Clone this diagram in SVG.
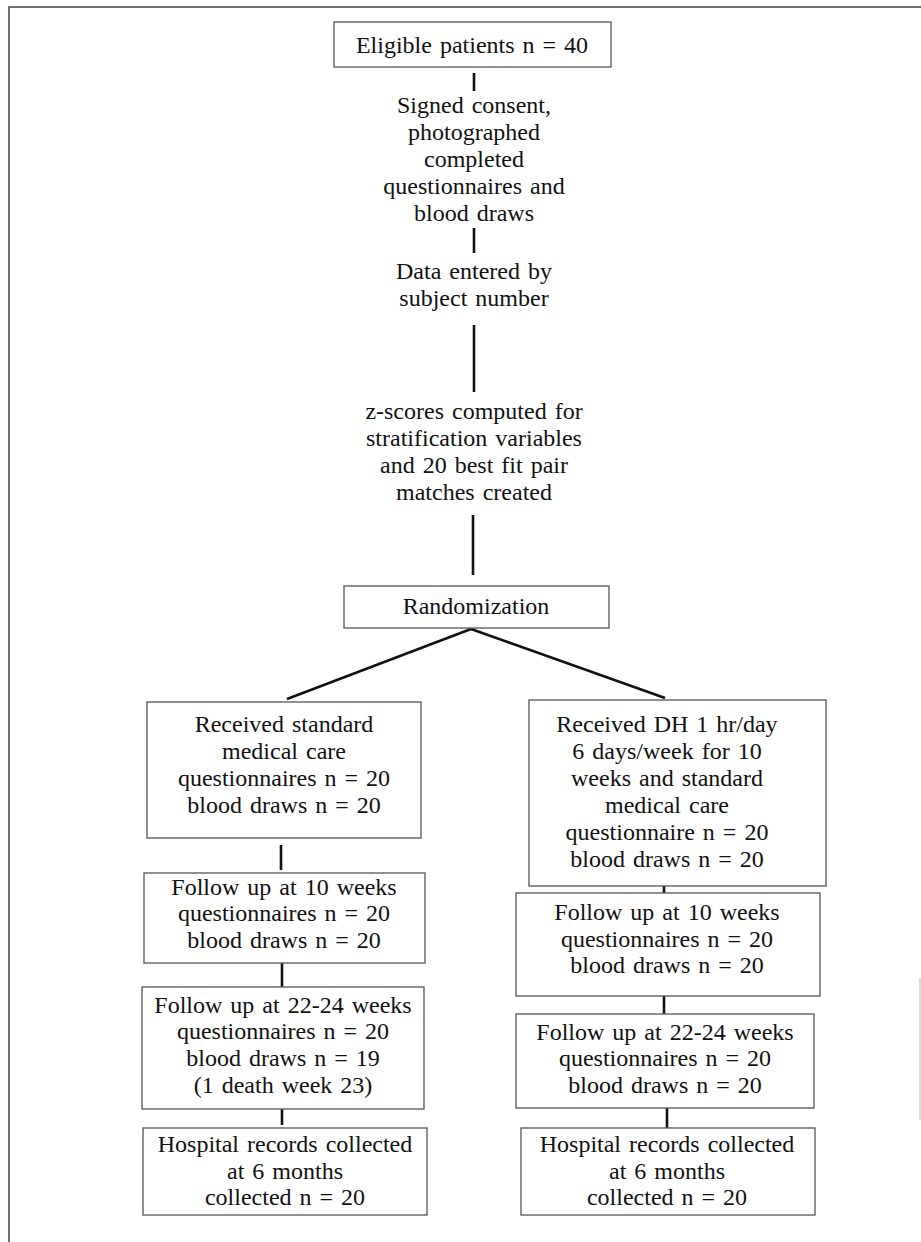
<svg xmlns="http://www.w3.org/2000/svg" width="921" height="1242" viewBox="0 0 921 1242">
<style>
.box{fill:#fff;stroke:#555;stroke-width:1.3}
.t{font-family:"Liberation Serif",serif;font-size:24px;fill:#111;text-anchor:middle;word-spacing:2px}
.c{stroke:#111;stroke-width:2.6;fill:none}
.frame{stroke:#444;stroke-width:1.5;fill:none}
</style>
<rect width="921" height="1242" fill="#fff"/>
<g id="frame">
<path class="frame" d="M9 1242 V7 H921"/>
<line x1="920" y1="978" x2="920" y2="1120" stroke="#bbb" stroke-width="1"/>
</g>
<g id="connectors">
<line class="c" x1="474" y1="73" x2="474" y2="91"/>
<line class="c" x1="474" y1="228" x2="474" y2="253"/>
<line class="c" x1="474" y1="325" x2="474" y2="392"/>
<line class="c" x1="473" y1="515" x2="473" y2="575"/>
<line class="c" x1="471" y1="629" x2="287" y2="699"/>
<line class="c" x1="471" y1="629" x2="665" y2="698"/>
<line class="c" x1="281" y1="845" x2="281" y2="870"/>
<line class="c" x1="282" y1="963" x2="282" y2="987"/>
<line class="c" x1="282" y1="1109" x2="282" y2="1125"/>
<line class="c" x1="664" y1="886" x2="664" y2="893"/>
<line class="c" x1="664" y1="996" x2="664" y2="1014"/>
<line class="c" x1="667" y1="1108" x2="667" y2="1128"/>
</g>
<g id="n1">
<rect class="box" x="334" y="22" width="277" height="45"/>
<text class="t" x="472" y="53">Eligible patients n = 40</text>
</g>
<g id="n2">
<text class="t" x="474" y="113">Signed consent,</text>
<text class="t" x="474" y="140">photographed</text>
<text class="t" x="474" y="167">completed</text>
<text class="t" x="474" y="194">questionnaires and</text>
<text class="t" x="474" y="221">blood draws</text>
</g>
<g id="n3">
<text class="t" x="474" y="279">Data entered by</text>
<text class="t" x="474" y="306">subject number</text>
</g>
<g id="n4">
<text class="t" x="474" y="419">z-scores computed for</text>
<text class="t" x="474" y="446">stratification variables</text>
<text class="t" x="474" y="473">and 20 best fit pair</text>
<text class="t" x="474" y="500">matches created</text>
</g>
<g id="n5">
<rect class="box" x="344" y="586" width="265" height="42"/>
<text class="t" x="476" y="614">Randomization</text>
</g>
<g id="l1">
<rect class="box" x="147" y="702" width="274" height="136"/>
<text class="t" x="284" y="732">Received standard</text>
<text class="t" x="284" y="759">medical care</text>
<text class="t" x="284" y="786">questionnaires n = 20</text>
<text class="t" x="284" y="813">blood draws n = 20</text>
</g>
<g id="l2">
<rect class="box" x="144" y="873" width="281" height="90"/>
<text class="t" x="284" y="895">Follow up at 10 weeks</text>
<text class="t" x="284" y="921">questionnaires n = 20</text>
<text class="t" x="284" y="948">blood draws n = 20</text>
</g>
<g id="l3">
<rect class="box" x="142" y="987" width="282" height="122"/>
<text class="t" x="283" y="1013">Follow up at 22-24 weeks</text>
<text class="t" x="283" y="1039">questionnaires n = 20</text>
<text class="t" x="283" y="1066">blood draws n = 19</text>
<text class="t" x="283" y="1093">(1 death week 23)</text>
</g>
<g id="l4">
<rect class="box" x="143" y="1128" width="284" height="87"/>
<text class="t" x="285" y="1152">Hospital records collected</text>
<text class="t" x="285" y="1179">at 6 months</text>
<text class="t" x="285" y="1205">collected n = 20</text>
</g>
<g id="r1">
<rect class="box" x="529" y="700" width="297" height="186"/>
<text class="t" x="667" y="732">Received DH 1 hr/day</text>
<text class="t" x="667" y="759">6 days/week for 10</text>
<text class="t" x="667" y="786">weeks and standard</text>
<text class="t" x="667" y="813">medical care</text>
<text class="t" x="667" y="840">questionnaire n = 20</text>
<text class="t" x="667" y="867">blood draws n = 20</text>
</g>
<g id="r2">
<rect class="box" x="516" y="893" width="304" height="103"/>
<text class="t" x="667" y="920">Follow up at 10 weeks</text>
<text class="t" x="667" y="947">questionnaires n = 20</text>
<text class="t" x="667" y="973">blood draws n = 20</text>
</g>
<g id="r3">
<rect class="box" x="516" y="1014" width="298" height="94"/>
<text class="t" x="665" y="1040">Follow up at 22-24 weeks</text>
<text class="t" x="665" y="1066">questionnaires n = 20</text>
<text class="t" x="665" y="1093">blood draws n = 20</text>
</g>
<g id="r4">
<rect class="box" x="521" y="1128" width="294" height="87"/>
<text class="t" x="667" y="1152">Hospital records collected</text>
<text class="t" x="667" y="1179">at 6 months</text>
<text class="t" x="667" y="1205">collected n = 20</text>
</g>
</svg>
